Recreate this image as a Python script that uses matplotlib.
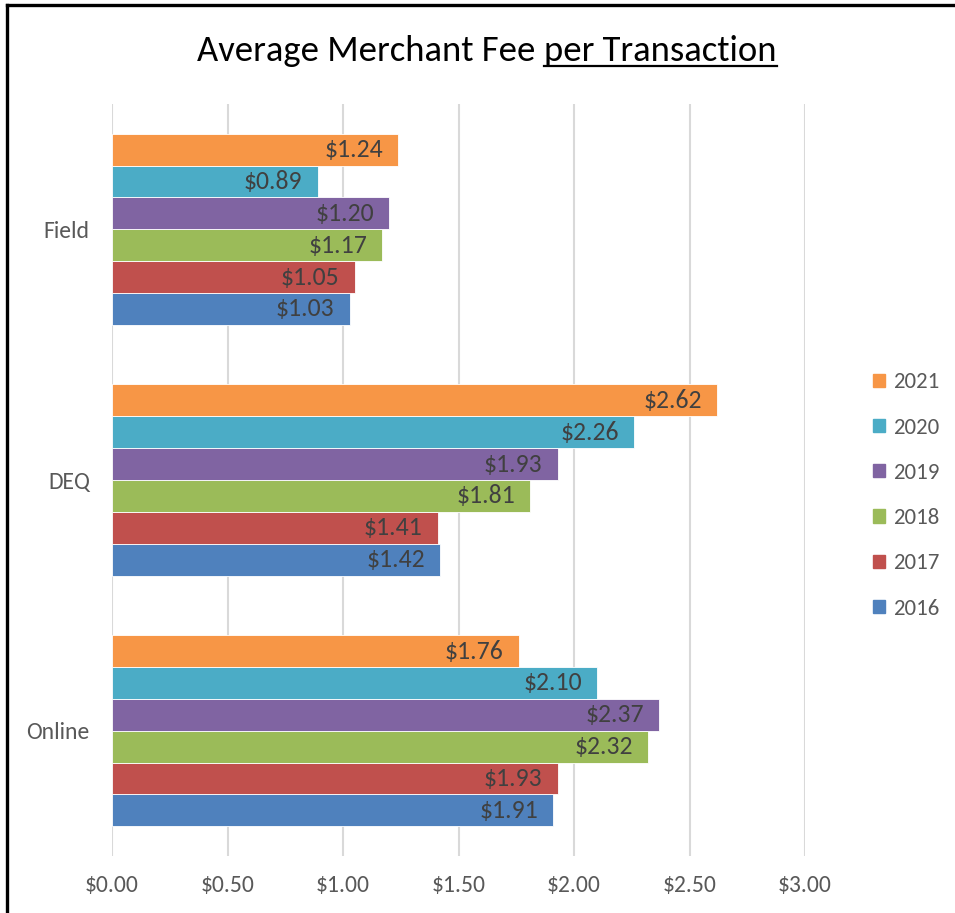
import matplotlib
matplotlib.use("Agg")
import matplotlib.pyplot as plt
from matplotlib.lines import Line2D
from matplotlib.patches import Rectangle

categories = ["Online", "DEQ", "Field"]          # bottom to top
years = ["2016", "2017", "2018", "2019", "2020", "2021"]
values = {
    "2016": [1.91, 1.42, 1.03],
    "2017": [1.93, 1.41, 1.05],
    "2018": [2.32, 1.81, 1.17],
    "2019": [2.37, 1.93, 1.20],
    "2020": [2.10, 2.26, 0.89],
    "2021": [1.76, 2.62, 1.24],
}
colors = {
    "2016": "#4F81BD",
    "2017": "#C0504D",
    "2018": "#9BBB59",
    "2019": "#8064A2",
    "2020": "#4BACC6",
    "2021": "#F79646",
}
xticks = [0.0, 0.5, 1.0, 1.5, 2.0, 2.5, 3.0]
title_main = "Average Merchant Fee "
title_under = "per Transaction"

FONT = ["Carlito", "DejaVu Sans"]
W, H = 955, 913
fig = plt.figure(figsize=(W / 100, H / 100), dpi=100)
ax = fig.add_axes([112 / W, 1 - 856 / H, (805 - 112) / W, (856 - 104) / H])

h = 0.127
n = len(years)
for i, yr in enumerate(years):
    ys = [c + (i - (n - 1) / 2) * h for c in range(len(categories))]
    ax.barh(ys, values[yr], height=h, color=colors[yr],
            edgecolor="white", linewidth=0.6, label=yr, zorder=3)
    for y, v in zip(ys, values[yr]):
        ax.annotate(f"${v:.2f}", xy=(v, y), xytext=(-11, 0),
                    textcoords="offset points", ha="right", va="center",
                    fontsize=18.5, color="#404040", family=FONT, zorder=4)

ax.set_xlim(0, 3.0)
ax.set_ylim(-0.5, len(categories) - 0.5)
ax.set_xticks(xticks)
ax.set_xticklabels([f"${t:.2f}" for t in xticks], family=FONT,
                   fontsize=17, color="#595959")
ax.set_yticks(range(len(categories)))
ax.set_yticklabels(categories, family=FONT, fontsize=17, color="#595959")
ax.tick_params(axis="both", length=0)
ax.tick_params(axis="x", pad=14)
ax.tick_params(axis="y", pad=16)
for s in ax.spines.values():
    s.set_visible(False)
ax.grid(axis="x", color="#D9D9D9", linewidth=1.5, zorder=0)
ax.set_axisbelow(True)

# legend (2021 at top)
handles = [Rectangle((0, 0), 1, 1, color=colors[y]) for y in reversed(years)]
leg = fig.legend(handles, list(reversed(years)), loc="center left",
                 bbox_to_anchor=(873 / W, 1 - 495.5 / H), frameon=False,
                 prop={"family": FONT, "size": 16.5},
                 borderpad=0, borderaxespad=0,
                 handlelength=0.52, handleheight=0.52, handletextpad=0.35,
                 labelspacing=1.1)
for t in leg.get_texts():
    t.set_color("#595959")

# title with underlined part
fig.canvas.draw()
r = fig.canvas.get_renderer()
tkw = dict(family=FONT, fontsize=26.4, color="black", va="baseline")
t1 = fig.text(0, 0, title_main, **tkw)
t2 = fig.text(0, 0, title_under, **tkw)
w1 = t1.get_window_extent(r).width
w2 = t2.get_window_extent(r).width
cx = 487
x0 = cx - (w1 + w2) / 2
base = H - 61
t1.set_position((x0 / W, base / H))
t2.set_position(((x0 + w1) / W, base / H))
fig.add_artist(Line2D([(x0 + w1) / W, (x0 + w1 + w2) / W],
                      [(base - 5) / H, (base - 5) / H],
                      color="black", linewidth=1.6))

# outer frame (top and left)
fig.add_artist(Line2D([7 / W, 7 / W], [0, 1 - 5 / H], color="black", linewidth=2.4))
fig.add_artist(Line2D([7 / W, 1], [1 - 5 / H, 1 - 5 / H], color="black", linewidth=2.4))

fig.savefig("out.png", dpi=100)
